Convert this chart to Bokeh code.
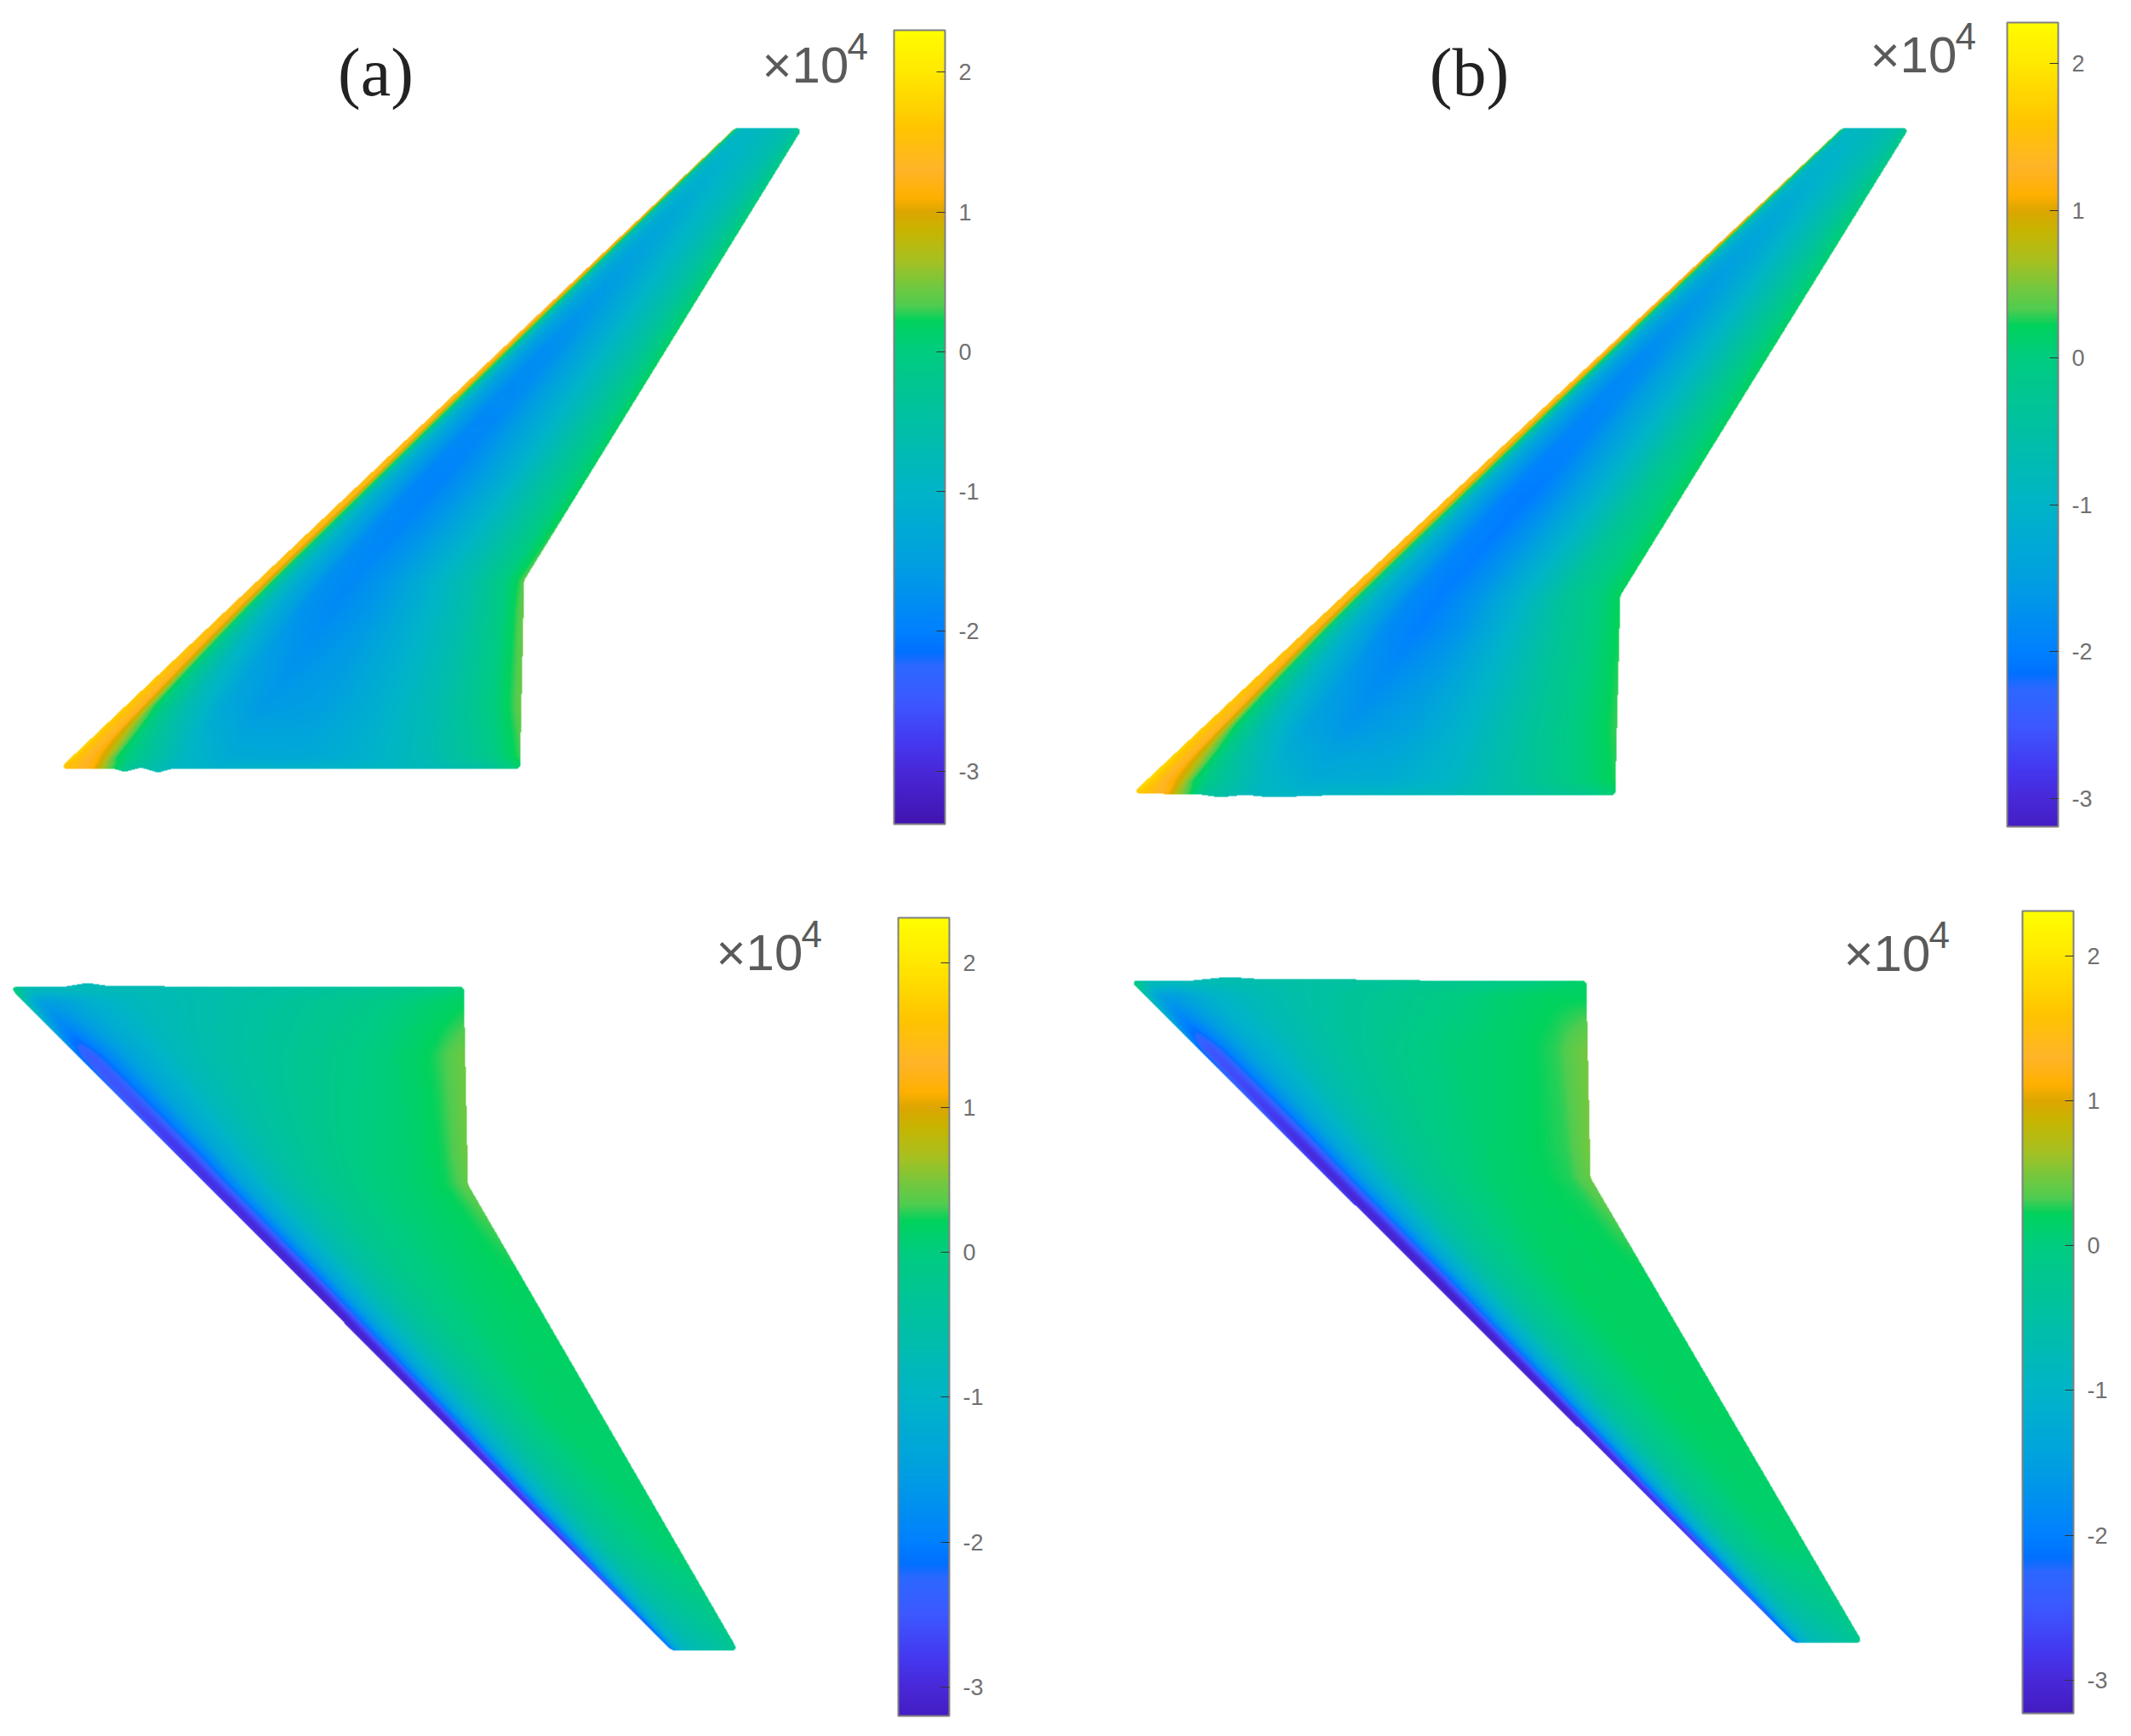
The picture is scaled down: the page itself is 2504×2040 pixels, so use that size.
import numpy as np
from bokeh.embed import file_html
from bokeh.resources import INLINE
from bokeh.plotting import figure
from bokeh.models import ColorBar, LinearColorMapper, FixedTicker, Range1d, ColumnDataSource
from bokeh.core.properties import value

# colour scale
stop_values = [-3.45, -3.0, -2.8, -2.5, -2.25, -2.15, -2.0, -1.5, -1.0, -0.5, 0.0, 0.22, 0.33, 0.46, 0.66, 0.87, 1.0, 1.11, 1.3, 1.6, 2.0, 2.32]
stop_colors = ["#3f10a8", "#4828d8", "#4438f0", "#3c58ff", "#2c68ff", "#0070ff", "#0080ff", "#00a0e0", "#00b4c8", "#00c0a4", "#00cc80",
               "#00d25c", "#50cc50", "#70c840", "#a8c020", "#c8b400", "#dca600", "#ffb000", "#ffb428", "#ffc400", "#ffe800", "#ffff00"]

# spanwise and chordwise stations of the value tables
eta = [0, .02, .1, .25, .45, .65, .85, 1]
xi = [0, .02, .04, .07, .1, .15, .25, .35, .5, .65, .8, .92, 1]

# wing outlines, reference pixels: LE root, LE tip, TE tip, TE kink, TE root
wing_a_top = [(76, 912), (872, 157), (950, 160), (623, 690), (618, 914)]
wing_b_top = [(1340, 938), (2174, 156), (2250, 162), (1911, 708), (1905, 945)]
wing_a_bot = [(25, 1175), (799, 1951), (874, 1943), (557, 1400), (552, 1165)]
wing_b_bot = [(1338, 1164), (2122, 1945), (2196, 1932), (1876, 1392), (1871, 1161)]

# uneven root edges of the point clouds
root_a_top_x = [60, 140, 153, 173, 193, 210, 293, 620]
root_a_top_y = [912, 911, 915, 910, 916, 911, 911, 912]
root_b_top_x = [1330, 1420, 1440, 1470, 1500, 1560, 1700, 1910]
root_b_top_y = [940, 942, 945, 942, 945, 943, 942, 942]
root_a_bot_x = [10, 80, 110, 130, 200, 400, 560]
root_a_bot_y = [1168, 1168, 1163, 1166, 1167, 1168, 1167]
root_b_bot_x = [1330, 1400, 1450, 1480, 1600, 1750, 1880]
root_b_bot_y = [1161, 1161, 1156, 1158, 1159, 1161, 1161]

vals_a_top = [
    [1.6, 1.5, 1.4, 1.2, .6, -.3, -.9, -1.0, -1.0, -.95, -.8, -.5, .1],
    [1.8, 1.5, 1.3, 1.0, .25, -.2, -.9, -1.25, -1.3, -1.1, -.7, -.2, .3],
    [1.7, 1.5, 1.3, .3, -.1, -.6, -1.3, -1.6, -1.5, -1.1, -.6, -.05, .42],
    [1.5, 1.5, .95, -.1, -.6, -1.1, -1.7, -1.85, -1.6, -1.1, -.6, -.05, .42],
    [1.5, 1.5, .9, -.4, -1.0, -1.4, -1.9, -1.95, -1.6, -1.1, -.5, -.1, .2],
    [1.5, 1.4, .5, -.6, -1.1, -1.5, -1.8, -1.75, -1.35, -.9, -.5, -.1, .2],
    [1.4, 1.1, -.1, -.8, -1.0, -1.2, -1.35, -1.25, -1.0, -.8, -.5, -.2, .1],
    [.9, .3, -.6, -.75, -.85, -.9, -.9, -.85, -.8, -.7, -.6, -.4, -.1],
]
vals_b_top = [
    [1.7, 1.6, 1.5, 1.2, .6, -.3, -.85, -1.0, -.9, -.8, -.5, -.2, .1],
    [1.9, 1.6, 1.3, 1.0, .25, -.25, -.9, -1.2, -1.2, -.95, -.4, 0, .25],
    [1.7, 1.5, 1.3, .3, -.1, -.7, -1.4, -1.65, -1.45, -.95, -.35, .05, .3],
    [1.5, 1.5, .95, -.2, -.7, -1.2, -1.8, -2.0, -1.65, -1.0, -.35, 0, .25],
    [1.5, 1.5, .85, -.5, -1.1, -1.5, -2.0, -2.05, -1.6, -1.0, -.35, 0, .2],
    [1.5, 1.4, .4, -.7, -1.2, -1.55, -1.85, -1.75, -1.3, -.85, -.35, 0, .2],
    [1.4, 1.0, -.2, -.9, -1.05, -1.25, -1.35, -1.25, -1.0, -.7, -.4, -.1, .1],
    [.9, .2, -.7, -.8, -.85, -.9, -.9, -.85, -.8, -.7, -.6, -.4, -.1],
]
vals_a_bot = [
    [.3, -.4, -.7, -.8, -.8, -.8, -.75, -.7, -.55, -.45, -.3, -.1, .1],
    [-.5, -1.2, -1.5, -1.5, -1.4, -1.15, -.85, -.7, -.5, -.3, -.1, .1, .2],
    [-2.0, -2.4, -2.4, -2.0, -1.7, -1.3, -.85, -.6, -.35, -.15, .05, .25, .45],
    [-2.6, -2.9, -2.8, -2.3, -1.9, -1.35, -.8, -.5, -.2, 0, .1, .25, .45],
    [-2.9, -3.15, -3.05, -2.55, -2.0, -1.4, -.75, -.42, -.1, .05, .15, .2, .2],
    [-2.9, -3.1, -3.0, -2.5, -1.9, -1.35, -.75, -.42, -.1, .1, .15, .15, .15],
    [-2.6, -2.85, -2.6, -2.1, -1.7, -1.2, -.7, -.4, -.2, -.05, .05, .1, .1],
    [-2.0, -2.2, -1.9, -1.5, -1.3, -1.05, -.85, -.7, -.6, -.5, -.4, -.3, -.1],
]
vals_b_bot = [
    [.3, -.4, -.7, -.8, -.8, -.75, -.65, -.55, -.4, -.25, -.1, .05, .15],
    [-.5, -1.2, -1.5, -1.5, -1.35, -1.05, -.75, -.55, -.3, -.1, .1, .2, .2],
    [-2.0, -2.5, -2.5, -2.0, -1.65, -1.2, -.75, -.45, -.15, .05, .15, .28, .48],
    [-2.6, -3.0, -2.9, -2.35, -1.85, -1.3, -.65, -.35, -.05, .1, .2, .28, .48],
    [-2.9, -3.18, -3.1, -2.6, -2.0, -1.35, -.6, -.25, .05, .2, .2, .2, .2],
    [-2.9, -3.15, -3.05, -2.5, -1.9, -1.3, -.6, -.25, 0, .15, .2, .2, .2],
    [-2.6, -2.85, -2.6, -2.1, -1.7, -1.15, -.65, -.3, -.1, .05, .1, .1, .1],
    [-2.0, -2.2, -1.9, -1.5, -1.3, -1.05, -.85, -.7, -.6, -.5, -.4, -.3, -.1],
]

panel_labels = ["(a)", "(b)"]
multiplier = ["\u00d710"] * 4
exponent = ["4"] * 4
bar_ticks = [-3, -2, -1, 0, 1, 2]
tick_labels = {-3: "-3", -2: "-2", -1: "-1", 0: "0", 1: "1", 2: "2"}
# value limits of each colour bar
bar_limits = [(-3.38, 2.30), (-3.19, 2.28), (-3.2, 2.31), (-3.23, 2.31)]

W, H = 2504, 2040


def to_rgb(c):
    return np.array([int(c[i:i + 2], 16) for i in (1, 3, 5)], float)


stop_rgb = np.array([to_rgb(c) for c in stop_colors])


def palette(lo, hi, n=512):
    v = lo + (np.arange(n) + .5) / n * (hi - lo)
    rgb = np.column_stack([np.interp(v, stop_values, stop_rgb[:, k]) for k in range(3)])
    return ["#%02x%02x%02x" % tuple(int(round(a)) for a in row) for row in rgb]


def box_blur(a, r, passes=2):
    k = np.ones(2 * r + 1) / (2 * r + 1)
    out = a.astype(float)
    for _ in range(passes):
        pad = np.pad(out, r, mode="edge")
        out = np.apply_along_axis(lambda m: np.convolve(m, k, mode="valid"), 0, pad)
        out = np.apply_along_axis(lambda m: np.convolve(m, k, mode="valid"), 1, out)
    return out


def wing_image(outline, table, rx, ry, step=1):
    (lrx, lry), (ltx, lty), (ttx, tty), (tkx, tky), (trx, try_) = outline
    table = np.array(table, float)
    yr, yt = (lry + try_) / 2, (lty + tty) / 2
    xs = np.arange(min(lrx, trx, ltx) - 8, max(ttx, tkx, ltx) + 8, step, dtype=float)
    ys = np.arange(min(lty, tty, lry, try_) - 8, max(lty, tty, lry, try_) + 8, step, dtype=float)
    X, Y = np.meshgrid(xs, ys)
    e = (Y - yr) / (yt - yr)
    xle = lrx + (Y - lry) / (lty - lry) * (ltx - lrx)
    ek = (tky - yr) / (yt - yr)
    xte = np.interp(e, [0, ek, 1], [trx, tkx, ttx])
    c = (X - xle) / (xte - xle)
    edge = np.interp(X, rx, ry)
    root_ok = (Y <= edge) if yt < yr else (Y >= edge)
    inside = (e <= 1) & (c >= 0) & (c <= 1) & root_ok
    # bilinear lookup in the value table
    ei = np.interp(e, eta, np.arange(len(eta)))
    ci = np.interp(c, xi, np.arange(len(xi)))
    e0 = np.clip(ei.astype(int), 0, len(eta) - 2)
    c0 = np.clip(ci.astype(int), 0, len(xi) - 2)
    fe, fc = ei - e0, ci - c0
    Z = (table[e0, c0] * (1 - fe) * (1 - fc) + table[e0 + 1, c0] * fe * (1 - fc)
         + table[e0, c0 + 1] * (1 - fe) * fc + table[e0 + 1, c0 + 1] * fe * fc)
    Z = box_blur(Z, 1)
    # rounded corners, as the blurred photograph shows
    Z[box_blur(inside, 3) < .5] = np.nan
    return Z[::-1], xs[0], H - ys[-1], xs[-1] - xs[0] + step, ys[-1] - ys[0] + step


p = figure(width=W - 16, height=H - 16, x_range=Range1d(8, W - 8), y_range=Range1d(8, H - 8),
           output_backend="svg", toolbar_location=None, min_border=0)
p.xaxis.visible = False
p.yaxis.visible = False
p.grid.visible = False
p.outline_line_color = None
p.background_fill_color = "white"

wings = [(wing_a_top, vals_a_top, root_a_top_x, root_a_top_y), (wing_b_top, vals_b_top, root_b_top_x, root_b_top_y),
         (wing_a_bot, vals_a_bot, root_a_bot_x, root_a_bot_y), (wing_b_bot, vals_b_bot, root_b_bot_x, root_b_bot_y)]
bar_boxes = [(1058, 35, 60, 933), (2366, 26, 60, 945), (1063, 1078, 60, 938), (2384, 1070, 60, 943)]

for (outline, table, rx, ry), (lo, hi), (bx, by, bw, bh) in zip(wings, bar_limits, bar_boxes):
    mapper = LinearColorMapper(palette=palette(lo, hi), low=lo, high=hi, nan_color=(0, 0, 0, 0))
    Z, x0, y0, dw, dh = wing_image(outline, table, rx, ry)
    p.image(image=[Z], x=x0, y=y0, dw=dw, dh=dh, color_mapper=mapper)
    cb = ColorBar(color_mapper=mapper, ticker=FixedTicker(ticks=bar_ticks), major_label_overrides=tick_labels,
                  location=(bx - 8, H - 8 - by - bh - 8), width=bw, height=bh, padding=0, margin=0,
                  major_tick_in=10, major_tick_line_color="#333333", minor_tick_line_color=None,
                  bar_line_color="#808080", bar_line_width=2, label_standoff=16,
                  major_label_text_font="Liberation Sans", major_label_text_font_size="27px",
                  major_label_text_color="#707070", background_fill_color=None, border_line_color=None)
    p.add_layout(cb, "center")

pl = ColumnDataSource(dict(x=[449, 1734], y=[H - 92, H - 92], t=panel_labels))
p.text("x", "y", text="t", source=pl, text_font=value("Liberation Serif"), text_font_size="80px",
       text_align="center", text_baseline="middle", text_color="#222222")

mx = [903, 2205, 849, 2174]
my = [H - 84, H - 72, H - 1127, H - 1128]
ms = ColumnDataSource(dict(x=mx, y=my, t=multiplier))
p.text("x", "y", text="t", source=ms, text_font=value("Liberation Sans"), text_font_size="60px",
       text_align="left", text_baseline="alphabetic", text_color="#5a5a5a")
es = ColumnDataSource(dict(x=[v + 100 for v in mx], y=[v + 22 for v in my], t=exponent))
p.text("x", "y", text="t", source=es, text_font=value("Liberation Sans"), text_font_size="44px",
       text_align="left", text_baseline="alphabetic", text_color="#5a5a5a")

open("out.html", "w").write(file_html(p, INLINE))
